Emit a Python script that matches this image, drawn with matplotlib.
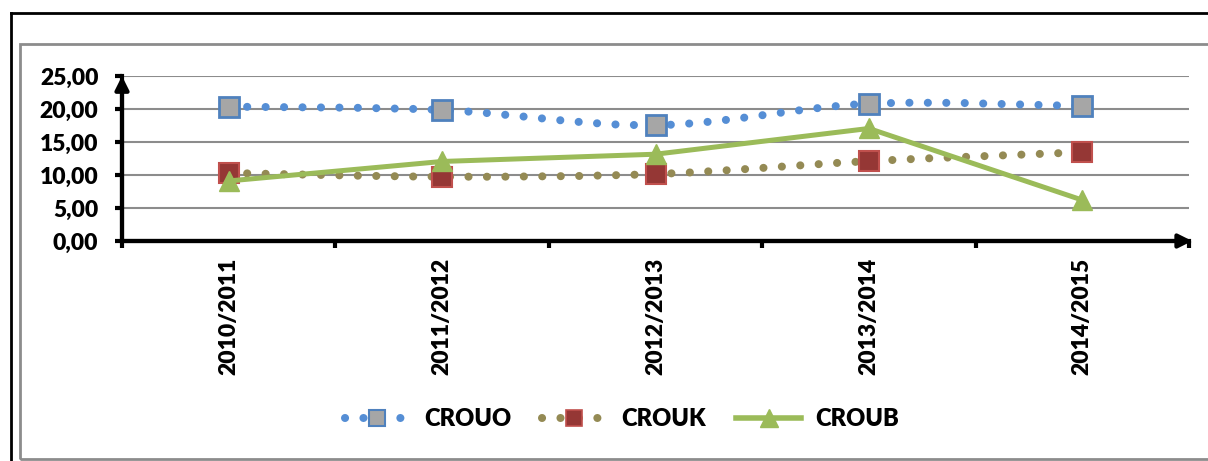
import matplotlib.pyplot as plt
from matplotlib.path import Path
from matplotlib.patches import PathPatch, Rectangle
from matplotlib.lines import Line2D
from matplotlib.ticker import FixedLocator, FuncFormatter, MultipleLocator

years = ['2010/2011', '2011/2012', '2012/2013', '2013/2014', '2014/2015']
crouo = [20.35, 19.85, 17.55, 20.8, 20.45]
crouk = [10.3, 9.75, 10.15, 12.1, 13.45]
croub = [9.1, 12.05, 13.15, 17.05, 6.2]

BLUE = '#558ED5'
OLIVE = '#948A54'
GREEN = '#9BBB59'
DOT_LW = 5.8
DOTS = (0, (0.01, 2.28))
WEIGHT = 'heavy'

plt.rcParams['font.family'] = ['Lato', 'DejaVu Sans']
plt.rcParams['font.weight'] = WEIGHT


def smooth_path(xs, ys):
    # excel-style smoothed line: bezier segments through the data points
    pts = list(zip(xs, ys))
    ext = [pts[0]] + pts + [pts[-1]]
    verts = [pts[0]]
    codes = [Path.MOVETO]
    for i in range(1, len(ext) - 2):
        p0, p1, p2, p3 = ext[i - 1], ext[i], ext[i + 1], ext[i + 2]
        c1 = (p1[0] + (p2[0] - p0[0]) / 6, p1[1] + (p2[1] - p0[1]) / 6)
        c2 = (p2[0] - (p3[0] - p1[0]) / 6, p2[1] - (p3[1] - p1[1]) / 6)
        verts += [c1, c2, p2]
        codes += [Path.CURVE4] * 3
    return Path(verts, codes)


fig = plt.figure(figsize=(12.08, 4.61), dpi=100)
W, H = 1208, 461

# outer frame and chart area box
fig.add_artist(Line2D([11 / W, 11 / W], [0, 1 - 13 / H], color='k', lw=2))
fig.add_artist(Line2D([11 / W, 1], [1 - 13 / H, 1 - 13 / H], color='k', lw=2))
fig.add_artist(Rectangle((20 / W, 2 / H), 1.1, 1 - 46 / H, transform=fig.transFigure,
                         fill=False, edgecolor='#8C8C8C', lw=2))

ax = fig.add_axes([122 / W, 1 - 241 / H, (1189 - 122) / W, (241 - 76) / H])
x = list(range(len(years)))

ax.add_patch(PathPatch(smooth_path(x, crouo), fill=False, edgecolor=BLUE, lw=DOT_LW,
                       linestyle=DOTS, capstyle='round', zorder=3))
ax.plot(x, crouo, linestyle='none', marker='s', ms=14, mfc='#A6A6A6', mec='#4F81BD',
        mew=2, zorder=4)
ax.add_patch(PathPatch(smooth_path(x, crouk), fill=False, edgecolor=OLIVE, lw=DOT_LW,
                       linestyle=DOTS, capstyle='round', zorder=3))
ax.plot(x, crouk, linestyle='none', marker='s', ms=14, mfc='#953735', mec='#C0504D',
        mew=1.5, zorder=4)
ax.plot(x, croub, color=GREEN, lw=3.6, marker='^', ms=15, mfc=GREEN, mec=GREEN, zorder=5)

ax.set_xlim(-0.5, 4.5)
ax.set_ylim(0, 25)
ax.yaxis.set_major_locator(MultipleLocator(5))
ax.yaxis.set_major_formatter(FuncFormatter(lambda v, _: f'{v:.2f}'.replace('.', ',')))
ax.grid(axis='y', color='#8C8C8C', lw=1.5)
ax.set_axisbelow(True)

ax.xaxis.set_major_locator(FixedLocator([i - 0.5 for i in range(len(years) + 1)]))
ax.xaxis.set_major_formatter(FuncFormatter(lambda v, _: ''))
ax.xaxis.set_minor_locator(FixedLocator(x))
ax.set_xticklabels(years, minor=True, rotation=90, fontsize=16.5, fontweight=WEIGHT)
ax.tick_params(axis='x', which='minor', length=0, pad=12)
ax.tick_params(axis='x', which='major', length=5, width=3, direction='out')
ax.tick_params(axis='y', length=5, width=3, pad=12, labelsize=16.5)
for lab in ax.get_yticklabels():
    lab.set_fontweight(WEIGHT)

for side in ['top', 'right']:
    ax.spines[side].set_visible(False)
for side in ['left', 'bottom']:
    ax.spines[side].set_linewidth(3)
ax.annotate('', xy=(1.003, 0), xytext=(0, 0), xycoords='axes fraction',
            arrowprops=dict(arrowstyle='-|>', lw=3, color='k', mutation_scale=20,
                            shrinkA=0, shrinkB=0), annotation_clip=False)
ax.annotate('', xy=(0, 1.0), xytext=(0, 0), xycoords='axes fraction',
            arrowprops=dict(arrowstyle='-|>', lw=3, color='k', mutation_scale=20,
                            shrinkA=0, shrinkB=0), annotation_clip=False)

handles = [
    Line2D([], [], color=BLUE, lw=DOT_LW, linestyle=DOTS, dash_capstyle='round',
           marker='s', ms=12, mfc='#A6A6A6', mec='#4F81BD', mew=1.5),
    Line2D([], [], color=OLIVE, lw=DOT_LW, linestyle=DOTS, dash_capstyle='round',
           marker='s', ms=12, mfc='#953735', mec='#C0504D', mew=1.2),
    Line2D([], [], color=GREEN, lw=4, marker='^', ms=13, mfc=GREEN, mec=GREEN),
]
fig.legend(handles, ['CROUO', 'CROUK', 'CROUB'], loc='center', ncol=3,
           bbox_to_anchor=(622 / W, 1 - 419 / H), frameon=False,
           handlelength=2.75, handletextpad=0.6, columnspacing=1.3, numpoints=1,
           prop={'weight': WEIGHT, 'size': 17})

fig.savefig('out.png', dpi=100)
